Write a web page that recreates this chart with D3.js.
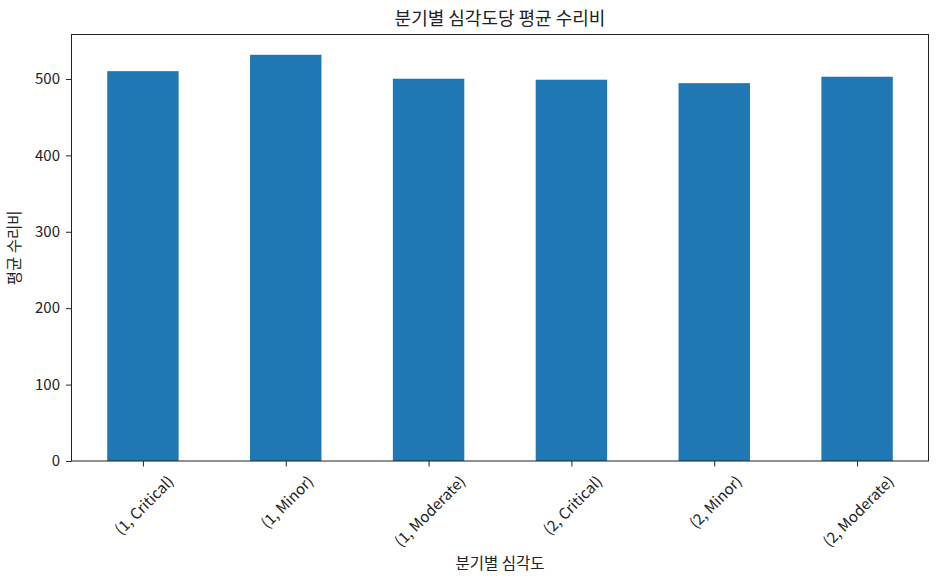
<!DOCTYPE html>
<html><head><meta charset="utf-8">
<script src="https://cdn.jsdelivr.net/npm/d3@7"></script>
<style>body{margin:0;background:#fff}svg{display:block}</style>
</head><body>
<svg id="c" width="939" height="583"></svg>
<script>
const categories = ["(1, Critical)", "(1, Minor)", "(1, Moderate)", "(2, Critical)", "(2, Minor)", "(2, Moderate)"];
const values = [510.2, 531.6, 500.3, 499.0, 494.5, 502.9];
const yTicks = [0, 100, 200, 300, 400, 500];
const title = "분기별 심각도당 평균 수리비";
const xLabel = "분기별 심각도";
const yLabel = "평균 수리비";

const W = 939, H = 583;
const m = {left: 71.5, right: 928.5, top: 34.5, bottom: 461};
const font = "'Noto Sans CJK KR', 'Noto Sans', sans-serif";
const svg = d3.select("#c");

const x = d3.scaleLinear().domain([-0.5, categories.length - 0.5]).range([m.left, m.right]);
const y = d3.scaleLinear().domain([0, d3.max(values) * 1.05]).range([m.bottom, m.top]);

svg.append("g").selectAll("rect").data(values).join("rect")
  .attr("x", (d, i) => x(i - 0.25))
  .attr("width", (d, i) => x(i + 0.25) - x(i - 0.25))
  .attr("y", d => y(d))
  .attr("height", d => y(0) - y(d))
  .attr("fill", "#1f77b4");

// y axis
const ya = svg.append("g").attr("transform", `translate(${m.left},0)`)
  .call(d3.axisLeft(y).tickValues(yTicks).tickSize(5.5).tickPadding(6));
ya.select(".domain").remove();
ya.selectAll("text").attr("font-family", font).attr("font-size", 15).attr("fill", "#222");
ya.selectAll("line").attr("stroke", "#222");

// x axis
const xa = svg.append("g").attr("transform", `translate(0,${m.bottom})`)
  .call(d3.axisBottom(x).tickValues(d3.range(categories.length)).tickFormat(i => categories[i]).tickSize(5.5));
xa.select(".domain").remove();
xa.selectAll("line").attr("stroke", "#222");
xa.selectAll("text").each(function(i) {
  const t = d3.select(this);
  t.attr("font-family", font).attr("font-size", 15).attr("fill", "#222")
   .attr("y", null).attr("dy", null).attr("dominant-baseline", "central").attr("text-anchor", "middle");
  const w = this.getComputedTextLength();
  const h = 15;
  const bh = (w + h) / Math.SQRT2;
  const cy = 5.5 + 6 + bh / 2;
  t.attr("transform", `translate(0,${cy}) rotate(-45)`);
});

// frame
svg.append("rect").attr("x", m.left).attr("y", m.top)
  .attr("width", m.right - m.left).attr("height", m.bottom - m.top)
  .attr("fill", "none").attr("stroke", "#222").attr("stroke-width", 1);

svg.append("text").attr("x", (m.left + m.right) / 2).attr("y", 25)
  .attr("text-anchor", "middle").attr("font-family", font).attr("font-size", 18).attr("fill", "#222").text(title);
svg.append("text").attr("x", (m.left + m.right) / 2).attr("y", 569)
  .attr("text-anchor", "middle").attr("font-family", font).attr("font-size", 15.5).attr("fill", "#222").text(xLabel);
svg.append("text").attr("transform", `translate(20,${(m.top + m.bottom) / 2}) rotate(-90)`)
  .attr("text-anchor", "middle").attr("font-family", font).attr("font-size", 15.5).attr("fill", "#222").text(yLabel);
</script>
</body></html>
